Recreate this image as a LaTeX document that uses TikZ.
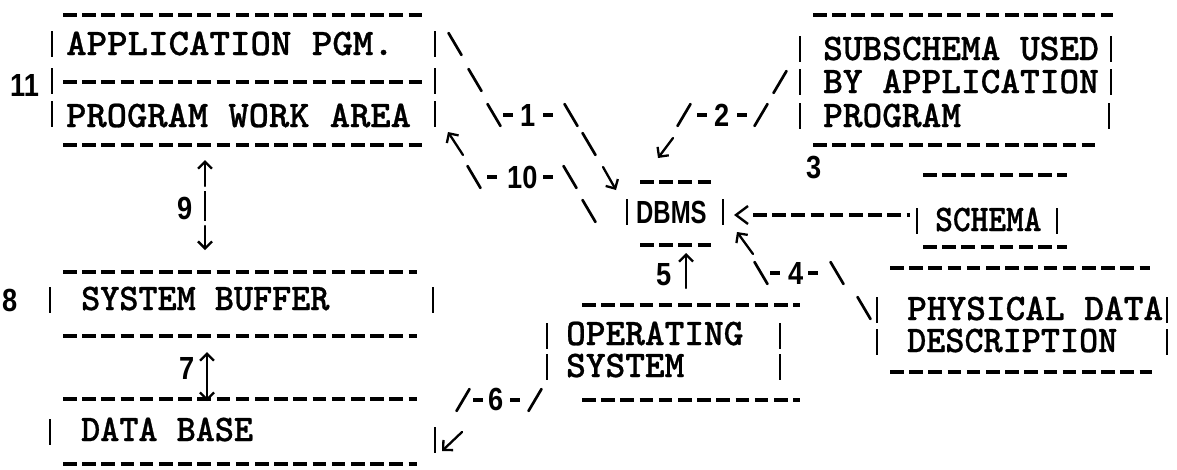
\documentclass[tikz,border=0pt]{standalone}
\usepackage{fontspec}
\newfontfamily\digfont{Liberation Sans}[FakeStretch=0.85]
\newfontfamily\printfont{lmmonolt10-bold.otf}[FakeBold=0.7]
\usetikzlibrary{arrows.meta}

% printed dashed rule between two x positions at height y
\newcommand\boxline[3]{\draw[dashrule] (#1,#3) -- (#2,#3);}
% one printed vertical bar centred at (x,y)
\newcommand\vside[2]{\draw[sidebar] (#1,#2-13) -- (#1,#2+13);}
% backslash and slash strokes centred at (x,y)
\newcommand\backstroke[2]{\draw[slantstroke] (#1-6.5,#2-11) -- (#1+6.5,#2+11);}
\newcommand\fwdstroke[2]{\draw[slantstroke] (#1+6.5,#2-11) -- (#1-6.5,#2+11);}
% short hyphen inside a flow label
\newcommand\labeldash[3]{\draw[shortdash] (#1,#3) -- (#2,#3);}

\begin{document}
\begin{tikzpicture}[x=1pt,y=-1pt,
  dashrule/.style={line width=3.3pt, dash pattern=on 13.5pt off 5.7pt},
  sidebar/.style={line width=2.6pt},
  slantstroke/.style={line width=2.7pt, line cap=round},
  shortdash/.style={line width=3.2pt},
  smallarrow/.style={line width=2.3pt, line cap=round,
    -{Straight Barb[length=7pt,width=14pt,line width=2.3pt]}},
  monotext/.style={anchor=base west, inner sep=0pt,
    font=\fontsize{37.5}{37.5}\selectfont\printfont},
  sanstext/.style={anchor=base west, inner sep=0pt,
    font=\fontsize{32}{32}\selectfont\digfont\bfseries},
]
\fill[white] (0,0) rectangle (1177,469);
\useasboundingbox (0,0) rectangle (1177,469);

% ---- application program / work area
\boxline{63}{422}{15}
\boxline{63}{422}{82}
\boxline{63}{422}{145}
\vside{52}{44} \vside{52}{81} \vside{52}{114}
\vside{435}{44} \vside{435}{81} \vside{435}{114}
\node[monotext] (apppgm) at (66,55) {\scalebox{1.04}[1]{APPLICATION PGM.}};
\node[monotext] (workarea) at (66,127) {\scalebox{1.03}[1]{PROGRAM WORK AREA}};
\node[sanstext] (n11) at (10,96) {11};

% ---- flow 1: program to DBMS
\backstroke{455}{44}
\backstroke{475}{80}
\backstroke{494}{115}
\labeldash{503}{513}{115}
\node[sanstext] (n1) at (520,126) {1};
\labeldash{543}{553}{115}
\backstroke{571}{115}
\backstroke{589}{144}
\draw[smallarrow] (603,167) -- (616,190);

% ---- flow 10: DBMS back to program
\draw[smallarrow] (463,155) -- (448,132);
\backstroke{474}{177}
\labeldash{487}{497}{177}
\node[sanstext] (n10) at (507,188) {10};
\labeldash{543}{553}{177}
\backstroke{570}{177}
\backstroke{589}{211}

% ---- subschema
\boxline{813}{1113}{15}
\boxline{813}{1095}{145}
\vside{800}{49} \vside{800}{82} \vside{800}{116}
\vside{1111}{49} \vside{1111}{82} \vside{1109}{116}
\node[monotext] (sub1) at (823,60) {SUBSCHEMA USED};
\node[monotext] (sub2) at (823,93) {BY APPLICATION};
\node[monotext] (sub3) at (823,127) {PROGRAM};

% ---- flow 2: subschema to DBMS
\fwdstroke{780}{82}
\fwdstroke{684}{115}
\labeldash{697}{707}{115}
\node[sanstext] (n2) at (714,126) {2};
\labeldash{737}{747}{115}
\fwdstroke{761}{115}
\draw[smallarrow] (673,138) -- (658,158);

% ---- DBMS and schema
\node[sanstext] (n3) at (806,178) {3};
\boxline{640}{711}{182}
\boxline{640}{711}{245}
\vside{627}{212}
\node[sanstext] (dbms) at (636,223) {\scalebox{0.88}[1]{DBMS}};
\vside{723}{212}
\draw[line width=2.4pt, line join=miter] (748,206) -- (736,215) -- (748,224);
\boxline{753}{910}{215}
\vside{917}{221}
\node[monotext] (schema) at (935,231) {\scalebox{0.9}[1]{SCHEMA}};
\vside{1057}{221}
\boxline{923}{1067}{175}
\boxline{923}{1067}{247}

% ---- flow 4: physical description to DBMS
\draw[smallarrow] (753,254) -- (737,232);
\backstroke{761}{273}
\labeldash{770}{780}{273}
\node[sanstext] (n4) at (788,284) {4};
\labeldash{808}{818}{273}
\backstroke{837}{273}
\backstroke{864}{308}

% ---- physical data description
\boxline{890}{1150}{268}
\boxline{890}{1152}{372}
\vside{877}{310} \vside{877}{342}
\vside{1167}{310} \vside{1167}{342}
\node[monotext] (phys1) at (907,320) {PHYSICAL DATA};
\node[monotext] (phys2) at (907,352) {\scalebox{0.97}[1]{DESCRIPTION}};

% ---- flow 5: operating system to DBMS
\node[sanstext] (n5) at (656,285) {5};
\draw[smallarrow] (686,288) -- (686,253);

% ---- operating system
\boxline{582}{800}{305}
\boxline{582}{800}{400}
\vside{547}{336} \vside{547}{367}
\vside{780}{336} \vside{780}{367}
\node[monotext] (os1) at (566,345) {OPERATING};
\node[monotext] (os2) at (566,377) {SYSTEM};

% ---- flow 9: work area and system buffer
\node[sanstext] (n9) at (177,219) {9};
\draw[smallarrow] (205,186) -- (205,160);
\draw[sidebar] (205,191) -- (205,221);
\draw[smallarrow] (205,226) -- (205,250);

% ---- system buffer
\boxline{63}{417}{272}
\boxline{63}{417}{336}
\node[sanstext] (n8) at (2,311) {8};
\vside{50}{300}
\vside{433}{300}
\node[monotext] (sysbuf) at (81,310) {\scalebox{0.97}[1]{SYSTEM BUFFER}};

% ---- flow 7: system buffer and data base
\node[sanstext] (n7) at (179,379) {7};
\draw[smallarrow] (207,380) -- (207,352);
\draw[smallarrow] (207,380) -- (207,401);

% ---- data base
\boxline{63}{417}{399}
\boxline{63}{417}{464}
\vside{50}{432}
\vside{435}{440}
\node[monotext] (database) at (81,441) {\scalebox{0.97}[1]{DATA BASE}};

% ---- flow 6: operating system to data base
\fwdstroke{463}{400}
\labeldash{473}{483}{400}
\node[sanstext] (n6) at (488,410) {6};
\labeldash{510}{520}{400}
\fwdstroke{535}{400}
\draw[smallarrow] (462,432) -- (442,451);
\end{tikzpicture}
\end{document}
